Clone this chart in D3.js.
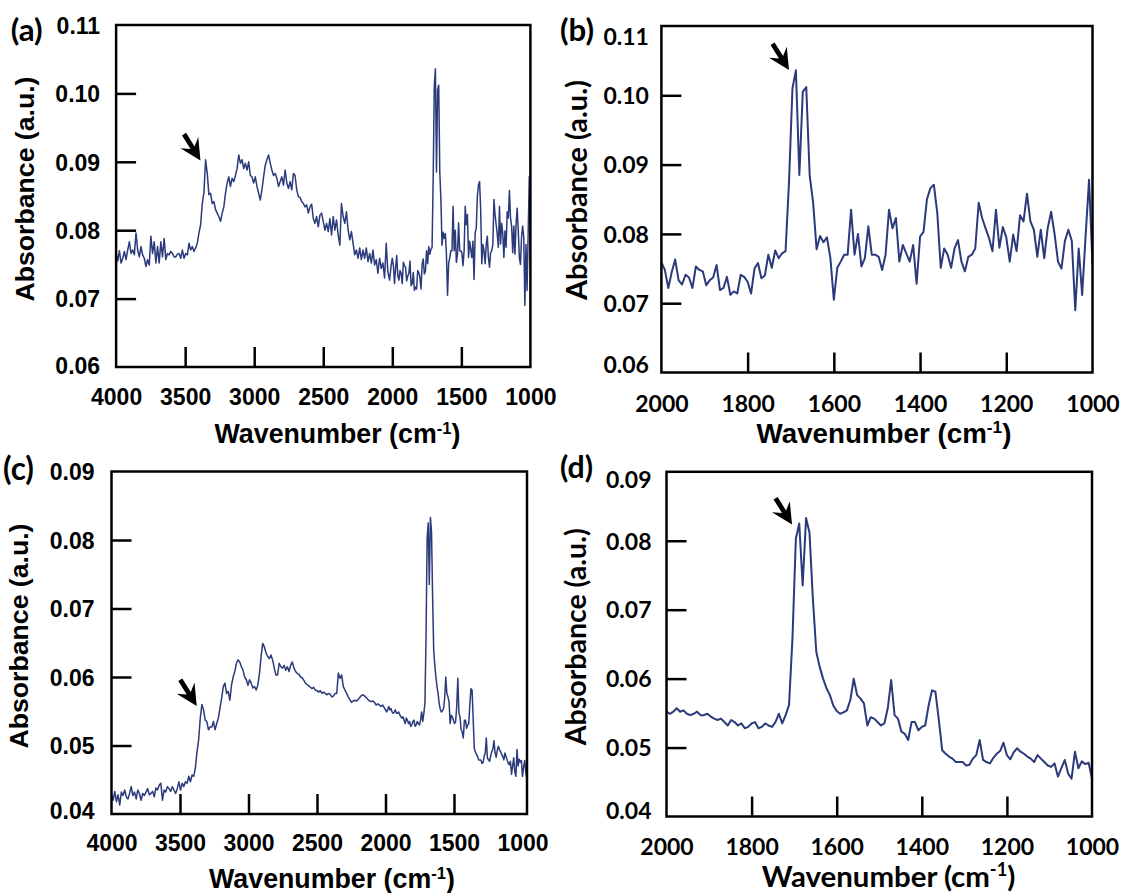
<!DOCTYPE html>
<html><head><meta charset="utf-8">
<script src="https://cdn.jsdelivr.net/npm/d3@7"></script>
<style>html,body{margin:0;padding:0;background:#fff}</style>
</head><body>
<svg id="chart" width="1121" height="893"></svg>
<script>
// ---------- DATA ----------
// Panel (a): 4000 -> 2008 cm-1, every 12 cm-1
const absA_high = [
0.0766,0.0755,0.0770,0.0752,0.0759,0.0769,0.0757,0.0771,0.0783,0.0766,
0.0771,0.0764,0.0796,0.0771,0.0761,0.0776,0.0764,0.0759,0.0747,0.0757,
0.0749,0.0791,0.0766,0.0783,0.0752,0.0776,0.0752,0.0783,0.0761,0.0788,
0.0757,0.0766,0.0764,0.0769,0.0766,0.0761,0.0761,0.0765,0.0766,0.0759,
0.0771,0.0759,0.0766,0.0764,0.0781,0.0771,0.0776,0.0769,0.0774,0.0781,
0.0796,0.0808,0.0839,0.0855,0.0903,0.0883,0.0852,0.0854,0.0839,0.0842,
0.0830,0.0825,0.0820,0.0813,0.0825,0.0834,0.0854,0.0869,0.0878,0.0864,
0.0876,0.0871,0.0880,0.0890,0.0910,0.0898,0.0903,0.0890,0.0898,0.0888,
0.0900,0.0880,0.0878,0.0869,0.0878,0.0864,0.0854,0.0844,0.0859,0.0878,
0.0895,0.0903,0.0910,0.0898,0.0888,0.0880,0.0883,0.0876,0.0864,0.0871,
0.0878,0.0866,0.0888,0.0869,0.0861,0.0871,0.0859,0.0883,0.0880,0.0859,
0.0849,0.0848,0.0842,0.0839,0.0834,0.0837,0.0825,0.0834,0.0838,0.0817,
0.0810,0.0820,0.0805,0.0822,0.0825,0.0813,0.0800,0.0810,0.0798,0.0817,
0.0793,0.0820,0.0800,0.0815,0.0793,0.0778,0.0839,0.0820,0.0810,0.0827,
0.0800,0.0786,0.0798,0.0781,0.0764,0.0771,0.0759,0.0774,0.0757,0.0771,
0.0759,0.0774,0.0754,0.0766,0.0752,0.0771,0.0749,0.0757,0.0737,0.0759,
0.0744,0.0752,0.0730,0.0781,0.0739,0.0727,0.0749];

// Panel (b) (same spectrum, 2000 -> 1000 cm-1), every 8 cm-1
const absB = [
0.0759,0.0748,0.0722,0.0745,0.0763,0.0733,0.0727,0.0741,0.0737,0.0722,
0.0753,0.0748,0.0746,0.0726,0.0733,0.0737,0.0755,0.0719,0.0722,0.0738,
0.0712,0.0717,0.0714,0.0741,0.0738,0.0731,0.0714,0.0750,0.0758,0.0736,
0.0740,0.0770,0.0751,0.0776,0.0765,0.0772,0.0775,0.0875,0.1010,0.1036,
0.0885,0.1005,0.1012,0.0884,0.0845,0.0778,0.0797,0.0788,0.0795,0.0765,
0.0705,0.0751,0.0760,0.0770,0.0770,0.0835,0.0770,0.0800,0.0753,0.0765,
0.0811,0.0770,0.0770,0.0767,0.0748,0.0770,0.0835,0.0808,0.0823,0.0760,
0.0784,0.0772,0.0760,0.0784,0.0728,0.0796,0.0803,0.0850,0.0866,0.0871,
0.0830,0.0751,0.0779,0.0770,0.0751,0.0779,0.0791,0.0760,0.0746,0.0767,
0.0770,0.0779,0.0845,0.0823,0.0808,0.0794,0.0775,0.0835,0.0780,0.0810,
0.0795,0.0760,0.0799,0.0775,0.0827,0.0818,0.0858,0.0818,0.0806,0.0767,
0.0806,0.0765,0.0808,0.0832,0.0800,0.0760,0.0750,0.0790,0.0806,0.0790,
0.0690,0.0779,0.0712,0.0797,0.0878,0.0755];

// Panel (c): 4000 -> 2008 cm-1, every 12 cm-1
const absC_high = [
0.0428,0.0420,0.0433,0.0418,0.0428,0.0413,0.0432,0.0427,0.0435,0.0425,
0.0422,0.0430,0.0440,0.0427,0.0432,0.0422,0.0435,0.0430,0.0420,0.0430,
0.0427,0.0432,0.0437,0.0428,0.0430,0.0433,0.0425,0.0438,0.0435,0.0442,
0.0445,0.0420,0.0435,0.0432,0.0440,0.0437,0.0433,0.0440,0.0435,0.0430,
0.0437,0.0447,0.0435,0.0445,0.0440,0.0447,0.0445,0.0455,0.0447,0.0457,
0.0455,0.0467,0.0490,0.0508,0.0540,0.0560,0.0552,0.0537,0.0535,0.0523,
0.0527,0.0527,0.0535,0.0523,0.0532,0.0540,0.0555,0.0569,0.0586,0.0591,
0.0576,0.0579,0.0566,0.0588,0.0600,0.0608,0.0620,0.0625,0.0622,0.0615,
0.0610,0.0600,0.0596,0.0588,0.0596,0.0591,0.0584,0.0586,0.0581,0.0588,
0.0605,0.0630,0.0649,0.0644,0.0635,0.0630,0.0627,0.0632,0.0625,0.0613,
0.0603,0.0603,0.0620,0.0615,0.0613,0.0617,0.0610,0.0615,0.0608,0.0617,
0.0622,0.0613,0.0608,0.0605,0.0604,0.0600,0.0599,0.0595,0.0591,0.0589,
0.0587,0.0585,0.0583,0.0585,0.0581,0.0580,0.0578,0.0580,0.0576,0.0578,
0.0576,0.0574,0.0576,0.0575,0.0571,0.0572,0.0576,0.0576,0.0606,0.0598,
0.0603,0.0586,0.0581,0.0576,0.0571,0.0567,0.0563,0.0565,0.0566,0.0565,
0.0567,0.0570,0.0573,0.0574,0.0572,0.0570,0.0567,0.0565,0.0564,0.0565,
0.0563,0.0559,0.0561,0.0559,0.0557,0.0559,0.0555];

// Panel (d) (same spectrum as c, 2000 -> 1000 cm-1), every 8 cm-1
const absD = [
0.0552,0.0549,0.0552,0.0557,0.0552,0.0554,0.0549,0.0547,0.0549,0.0552,
0.0547,0.0547,0.0549,0.0545,0.0542,0.0540,0.0542,0.0537,0.0532,0.0540,
0.0537,0.0532,0.0535,0.0528,0.0530,0.0535,0.0537,0.0528,0.0530,0.0535,
0.0532,0.0530,0.0537,0.0549,0.0535,0.0547,0.0562,0.0658,0.0803,0.0825,
0.0735,0.0833,0.0812,0.0716,0.0639,0.0617,0.0600,0.0586,0.0576,0.0561,
0.0553,0.0549,0.0551,0.0554,0.0569,0.0600,0.0576,0.0571,0.0564,0.0532,
0.0544,0.0542,0.0537,0.0532,0.0535,0.0557,0.0598,0.0547,0.0542,0.0523,
0.0520,0.0511,0.0537,0.0537,0.0525,0.0530,0.0532,0.0561,0.0583,0.0581,
0.0540,0.0496,0.0491,0.0487,0.0484,0.0479,0.0479,0.0479,0.0474,0.0475,
0.0484,0.0489,0.0511,0.0482,0.0479,0.0477,0.0485,0.0491,0.0495,0.0507,
0.0489,0.0483,0.0493,0.0499,0.0494,0.0491,0.0487,0.0484,0.0479,0.0489,
0.0484,0.0479,0.0474,0.0472,0.0477,0.0458,0.0470,0.0482,0.0462,0.0455,
0.0494,0.0470,0.0480,0.0476,0.0478,0.0455];

// Panel (c) tail beyond 1000 cm-1 (992 -> 968), every 8 cm-1
const absC_tail = [0.0468,0.0478,0.0462,0.0452];

const xTicksWide = [4000,3500,3000,2500,2000,1500,1000];
const xTicksZoom = [2000,1800,1600,1400,1200,1000];
const yTicksAB = [0.06,0.07,0.08,0.09,0.10,0.11];
const yTicksCD = [0.04,0.05,0.06,0.07,0.08,0.09];
const panelLetters = ["(a)","(b)","(c)","(d)"];
const xTitle = "Wavenumber (cm";
const xTitleSup = "-1";
const yTitle = "Absorbance (a.u.)";
// arrow tips (wavenumber, absorbance)
const arrowTips = [[3389,0.0902],[1704,0.10365],[3378,0.05577],[1705,0.08235]];

// ---------- BUILD SERIES ----------
function grid(values, start, step){ return values.map((v,i)=>({w:start - step*i, v:v})); }
const seriesA = grid(absA_high, 4000, 12).concat(grid(absB, 2000, 8));
const seriesB = grid(absB, 2000, 8);
const seriesC = grid(absC_high, 4000, 12).concat(grid(absD, 2000, 8)).concat(grid(absC_tail, 992, 8));
const seriesD = grid(absD, 2000, 8);

const ARIAL = "'Liberation Sans', Arial, Helvetica, sans-serif";
const CALI = "Lato, 'Open Sans', sans-serif";
const LINE = "#2b3a7b";

const panels = [
 {id:'a', box:{l:116.1,r:530.4,t:25,b:367}, xd:[4000,1000], yd:[0.06,0.11], xt:xTicksWide, yt:yTicksAB, s:seriesA,
  tickFont:ARIAL, xTitleFont:ARIAL, yTitleFont:ARIAL, lw:1.5, yGap:16, xLab:30, topShift:0, botShift:-2,
  letter:{x:10.7,y:41,w:32}, xT:{cx:337.5,y:443,w:246}, yT:{x:34,cy:189,w:225}},
 {id:'b', box:{l:661.4,r:1092.5,t:26,b:372.5}, xd:[2000,1000], yd:[0.06,0.11], xt:xTicksZoom, yt:yTicksAB, s:seriesB,
  tickFont:CALI, xTitleFont:ARIAL, yTitleFont:CALI, lw:2, yGap:12.5, xLab:31, topShift:10, botShift:-8,
  letter:{x:560,y:41,w:34}, xT:{cx:884,y:443,w:255}, yT:{x:587,cy:190,w:220}},
 {id:'c', box:{l:111.5,r:527,t:471.5,b:814}, xd:[4000,967], yd:[0.04,0.09], xt:xTicksWide, yt:yTicksCD, s:seriesC,
  tickFont:ARIAL, xTitleFont:ARIAL, yTitleFont:ARIAL, lw:1.5, yGap:17, xLab:29, topShift:0, botShift:-4,
  letter:{x:3,y:479.5,w:31}, xT:{cx:332,y:888,w:246}, yT:{x:28,cy:636,w:225}},
 {id:'d', box:{l:666.5,r:1092,t:471.8,b:816.5}, xd:[2000,1000], yd:[0.04,0.09], xt:xTicksZoom, yt:yTicksCD, s:seriesD,
  tickFont:CALI, xTitleFont:CALI, yTitleFont:CALI, lw:2, yGap:15, xLab:30, topShift:7, botShift:-6,
  letter:{x:560,y:478,w:33}, xT:{cx:888.6,y:887,w:253.6}, yT:{x:586,cy:636.7,w:217}}
];

const svg = d3.select('#chart');
svg.append('rect').attr('width',1121).attr('height',893).attr('fill','#fff');
const defs = svg.append('defs');

function fitWidth(sel, target){
  const n = sel.node();
  const fs = parseFloat(sel.attr('font-size'));
  const w = n.getComputedTextLength();
  if (w > 0) sel.attr('font-size', fs*target/w);
}

panels.forEach((p, i) => {
  const x = d3.scaleLinear().domain(p.xd).range([p.box.l, p.box.r]);
  const y = d3.scaleLinear().domain(p.yd).range([p.box.b, p.box.t]);
  const g = svg.append('g');

  defs.append('clipPath').attr('id','clip-'+p.id).append('rect')
    .attr('x',p.box.l).attr('y',p.box.t).attr('width',p.box.r-p.box.l).attr('height',p.box.b-p.box.t);

  // spectrum line
  const line = d3.line().x(d=>x(d.w)).y(d=>y(d.v));
  g.append('path').datum(p.s).attr('d', line)
    .attr('fill','none').attr('stroke',LINE).attr('stroke-width',p.lw)
    .attr('stroke-linejoin','round').attr('clip-path','url(#clip-'+p.id+')');

  // y axis (ticks inward)
  const gy = g.append('g').attr('transform',`translate(${p.box.l},0)`)
    .call(d3.axisLeft(y).tickValues(p.yt).tickFormat(d3.format('.2f')).tickSize(-20).tickPadding(p.yGap));
  gy.select('.domain').remove();
  gy.selectAll('.tick line').attr('stroke','#000').attr('stroke-width',2.5);
  gy.selectAll('.tick').filter(d => d===p.yd[0] || d===p.yd[1]).select('line').remove();
  gy.selectAll('.tick text').attr('font-family',p.tickFont).attr('font-weight','bold')
    .attr('font-size',23).attr('fill','#000').attr('dy','0.36em');
  gy.selectAll('.tick').filter(d => d===p.yd[1]).select('text').attr('y', p.topShift);
  gy.selectAll('.tick').filter(d => d===p.yd[0]).select('text').attr('y', p.botShift);

  // x axis (ticks inward)
  const gx = g.append('g').attr('transform',`translate(0,${p.box.b})`)
    .call(d3.axisBottom(x).tickValues(p.xt).tickFormat(d3.format('d')).tickSize(-20));
  gx.select('.domain').remove();
  gx.selectAll('.tick line').attr('stroke','#000').attr('stroke-width',2.5);
  gx.selectAll('.tick').filter(d => d===p.xt[0] || d===p.xt[p.xt.length-1]).select('line').remove();
  gx.selectAll('.tick text').attr('font-family',p.tickFont).attr('font-weight','bold')
    .attr('font-size',23).attr('fill','#000').attr('y',p.xLab).attr('dy','0.36em');

  // frame
  g.append('rect').attr('x',p.box.l).attr('y',p.box.t)
    .attr('width',p.box.r-p.box.l).attr('height',p.box.b-p.box.t)
    .attr('fill','none').attr('stroke','#000').attr('stroke-width',2.5);

  // x title
  const xt = g.append('text').attr('x',p.xT.cx).attr('y',p.xT.y).attr('text-anchor','middle')
    .attr('font-family',p.xTitleFont).attr('font-weight','bold').attr('font-size',26).attr('fill','#000');
  xt.append('tspan').text(xTitle);
  xt.append('tspan').attr('font-size','62%').attr('baseline-shift','super').text(xTitleSup);
  xt.append('tspan').text(')');
  fitWidth(xt, p.xT.w);

  // y title
  const yt = g.append('text').attr('transform',`translate(${p.yT.x},${p.yT.cy}) rotate(-90)`)
    .attr('text-anchor','middle').attr('font-family',p.yTitleFont).attr('font-weight','bold')
    .attr('font-size',26).attr('fill','#000').text(yTitle);
  fitWidth(yt, p.yT.w);

  // panel letter
  const lt = g.append('text').attr('x',p.letter.x).attr('y',p.letter.y)
    .attr('font-family',CALI).attr('font-weight','bold').attr('font-size',27).attr('fill','#000')
    .text(panelLetters[i]);
  fitWidth(lt, p.letter.w);

  // arrow annotation
  const tip = arrowTips[i];
  g.append('path')
    .attr('d','M0,0 L-21,-10.5 L-15,-2.4 L-31,-2.4 L-31,2.4 L-15,2.4 L-21,10.5 Z')
    .attr('transform',`translate(${x(tip[0])},${y(tip[1])}) rotate(58)`)
    .attr('fill','#000');
});
</script>
</body></html>
